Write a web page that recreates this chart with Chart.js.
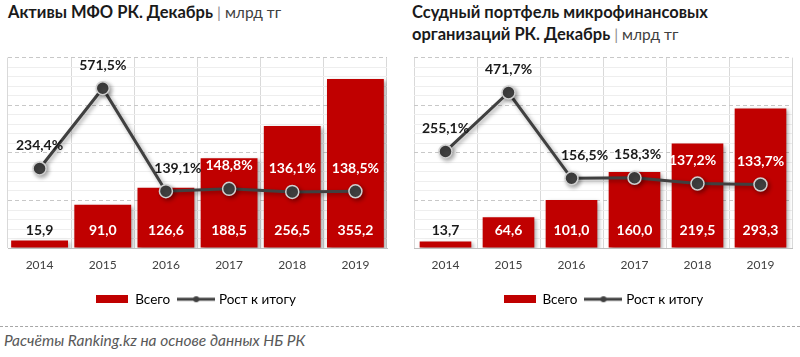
<!DOCTYPE html>
<html><head><meta charset="utf-8">
<script src="https://cdn.jsdelivr.net/npm/chart.js@4.4.0/dist/chart.umd.min.js"></script>
<style>
html,body{margin:0;padding:0;background:#fff;width:800px;height:357px;overflow:hidden;font-family:Lato,'Noto Sans',sans-serif;}
.t{position:absolute;font-weight:bold;font-size:16.5px;color:#1a1a1a;line-height:22px;white-space:nowrap;}
.u{font-weight:normal;font-size:15.5px;color:#404040}
.pipe{color:#8c8c8c;font-weight:normal;font-size:15.5px}
canvas{position:absolute;top:40px}
#c1{left:0}
#c2{left:400px}
.sep{position:absolute;left:0;top:326px;width:800px;border-top:1px dashed #a6a6a6}
.src{position:absolute;left:4px;top:331px;font-style:italic;font-size:15.5px;color:#595959;white-space:nowrap}
</style></head>
<body>
<div class="t" style="left:8px;top:1px">Активы МФО РК. Декабрь <span class="pipe">|</span> <span class="u">млрд тг</span></div>
<div class="t" style="left:412px;top:1px">Ссудный портфель микрофинансовых<br>организаций РК. Декабрь <span class="pipe">|</span> <span class="u">млрд тг</span></div>
<canvas id="c1" width="400" height="285"></canvas>
<canvas id="c2" width="400" height="285"></canvas>
<div class="sep"></div>
<div class="src">Расчёты Ranking.kz на основе данных НБ РК</div>
<script>
const years = ['2014', '2015', '2016', '2017', '2018', '2019'];
const assetsTotal = [15.9, 91.0, 126.6, 188.5, 256.5, 355.2];
const assetsGrowth = [234.4, 571.5, 139.1, 148.8, 136.1, 138.5];
const loansTotal = [13.7, 64.6, 101.0, 160.0, 219.5, 293.3];
const loansGrowth = [255.1, 471.7, 156.5, 158.3, 137.2, 133.7];
const seriesNames = ['Всего', 'Рост к итогу'];

const FONT = 'Lato, "Noto Sans", sans-serif';
const RED = '#C00000';
const DARK = '#404040';
const fmt = v => v.toFixed(1).replace('.', ',');

function rectImg() {
  const c = document.createElement('canvas'); c.width = 32; c.height = 8;
  const g = c.getContext('2d'); g.fillStyle = RED; g.fillRect(0, 0, 32, 8); return c;
}
function lineImg() {
  const c = document.createElement('canvas'); c.width = 38; c.height = 8;
  const g = c.getContext('2d');
  g.strokeStyle = DARK; g.lineWidth = 3; g.beginPath(); g.moveTo(0, 4); g.lineTo(38, 4); g.stroke();
  g.fillStyle = DARK; g.beginPath(); g.arc(19, 4, 3, 0, Math.PI * 2); g.fill(); return c;
}

const shadowPlugin = {
  id: 'shadowFx',
  beforeDatasetDraw(chart) {
    const c = chart.ctx; c.save();
    c.shadowColor = 'rgba(0,0,0,0.35)'; c.shadowBlur = 4; c.shadowOffsetX = 2; c.shadowOffsetY = 2;
  },
  afterDatasetDraw(chart) { chart.ctx.restore(); }
};

const labelPlugin = {
  id: 'valueLabels',
  afterDatasetsDraw(chart, args, opts) {
    const ctx = chart.ctx;
    const barMeta = chart.getDatasetMeta(0);
    const lineMeta = chart.getDatasetMeta(1);
    const area = chart.chartArea;
    const yBase = chart.scales.y.getPixelForValue(0);
    ctx.save();
    ctx.font = 'bold 14px ' + FONT;
    ctx.textAlign = 'center'; ctx.textBaseline = 'middle';
    barMeta.data.forEach((bar, i) => {
      const v = chart.data.datasets[0].data[i];
      const y = yBase - 18;
      ctx.fillStyle = bar.y < y - 9 ? '#ffffff' : '#1a1a1a';
      ctx.fillText(fmt(v), bar.x, y);
    });
    lineMeta.data.forEach((pt, i) => {
      const v = chart.data.datasets[1].data[i];
      const txt = fmt(v) + '%';
      const w = ctx.measureText(txt).width;
      let x = pt.x + ((opts.shift && opts.shift[i]) || 0);
      x = Math.max(area.left + w / 2, Math.min(area.right - w / 2, x));
      const y = pt.y - 23;
      const bar = barMeta.data[i];
      const inBar = (y - 7 > bar.y) && Math.abs(x - bar.x) < bar.width / 2;
      ctx.fillStyle = inBar ? '#ffffff' : '#1a1a1a';
      ctx.fillText(txt, x, y);
    });
    ctx.restore();
  }
};

function makeChart(id, totals, growth, y1max, barPct, pad, shift) {
  return new Chart(document.getElementById(id), {
    data: {
      labels: years,
      datasets: [
        { type: 'bar', label: seriesNames[0], data: totals, backgroundColor: RED, yAxisID: 'y',
          categoryPercentage: 1, barPercentage: barPct, order: 2 },
        { type: 'line', label: seriesNames[1], data: growth, yAxisID: 'y1', borderColor: DARK, borderWidth: 3,
          pointRadius: 6.5, pointBackgroundColor: DARK, pointBorderColor: '#d0d0d0', pointBorderWidth: 1.5,
          tension: 0, order: 1 }
      ]
    },
    options: {
      responsive: false, animation: false,
      layout: { padding: pad },
      scales: {
        x: { offset: true, grid: { color: '#d9d9d9', drawTicks: false, offset: true },
             border: { display: true, color: '#bfbfbf' },
             ticks: { color: '#404040', font: { size: 12, family: FONT }, padding: 10 } },
        y: { position: 'left', min: 0, max: 400, ticks: { stepSize: 20, display: false },
             grid: { color: c => (c.tick && c.tick.value % 100 === 0) ? 'rgba(0,0,0,0)' : '#eeeeee', drawTicks: false },
             border: { display: false } },
        yMaj: { position: 'left', min: 0, max: 400, ticks: { stepSize: 100, display: false },
             grid: { color: '#c8c8c8', drawTicks: false }, border: { display: false, dash: [4, 3] } },
        y1: { display: false, min: -100, max: y1max }
      },
      plugins: {
        tooltip: { enabled: false },
        valueLabels: { shift: shift },
        legend: {
          position: 'bottom',
          labels: {
            usePointStyle: true, pointStyleWidth: 32, boxHeight: 8, padding: 10,
            color: '#1a1a1a', font: { size: 13.5, family: FONT },
            generateLabels: () => [
              { text: seriesNames[0], pointStyle: rectImg(), datasetIndex: 0, hidden: false, lineWidth: 0, fillStyle: RED, strokeStyle: RED },
              { text: seriesNames[1], pointStyle: lineImg(), datasetIndex: 1, hidden: false, lineWidth: 0, fillStyle: DARK, strokeStyle: DARK }
            ]
          }
        }
      }
    },
    plugins: [shadowPlugin, labelPlugin]
  });
}

makeChart('c1', assetsTotal, assetsGrowth, 700, 0.9, { left: 5.5, right: 13, top: 17.6, bottom: 9 }, [0, 0, 12, 0, 0, 0]);
makeChart('c2', loansTotal, loansGrowth, 600, 0.82, { left: 14, right: 7, top: 17.6, bottom: 9 }, [0, 0, 13, 3, -5, 0]);
</script>
</body></html>
